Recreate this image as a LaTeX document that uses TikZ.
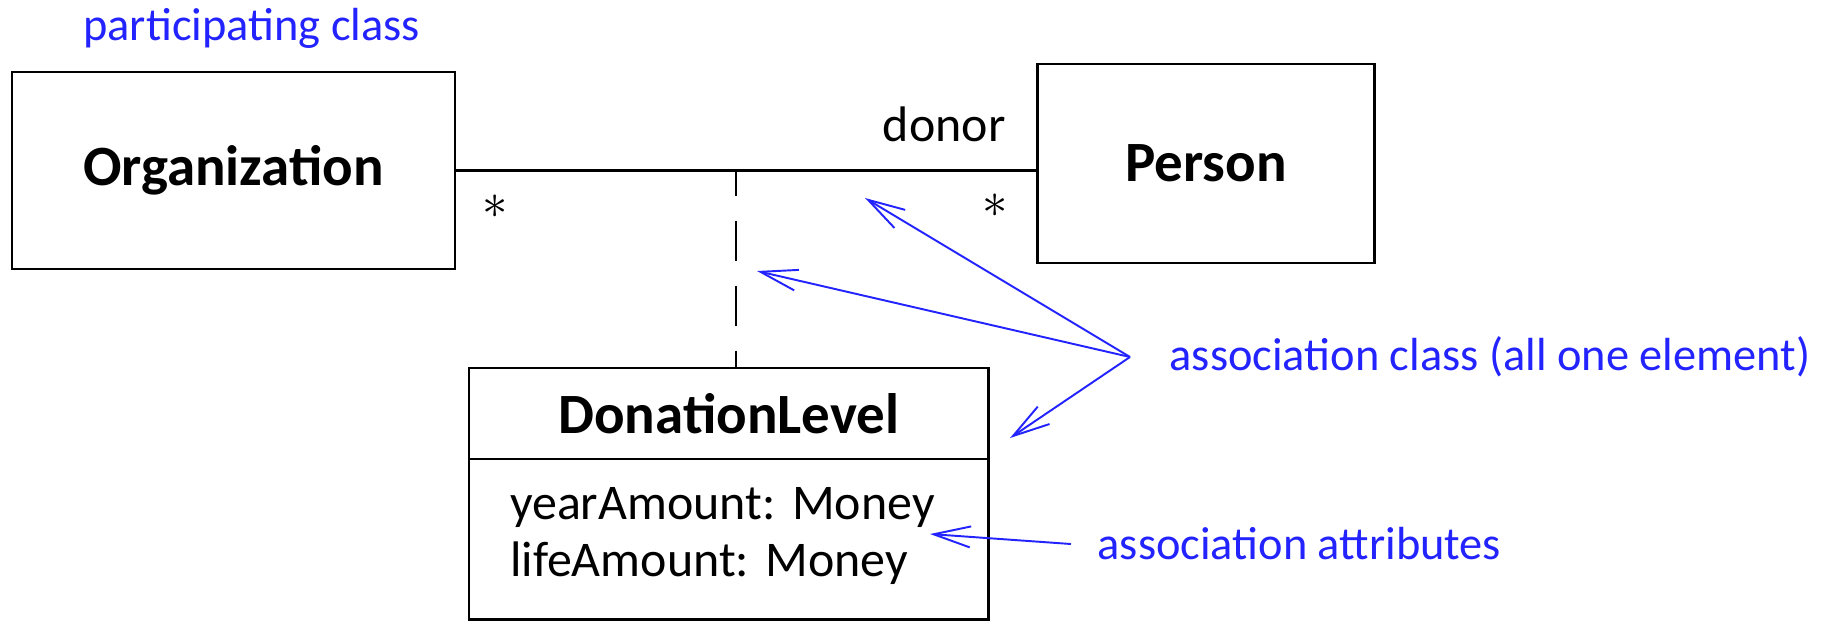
\documentclass[tikz,border=0pt]{standalone}
\usepackage{fontspec}
\setmainfont{Carlito}
\usepackage{tikz}
\usetikzlibrary{positioning, arrows.meta}
\definecolor{notecol}{RGB}{35,35,255}
\tikzset{C/.style={draw, line width=0.7pt, inner sep=0pt, font=\fontsize{16.2}{19}\selectfont\bfseries}}
\tikzset{T/.style={inner sep=0pt, font=\fontsize{14.2}{16.2}\selectfont}}
\tikzset{S/.style={inner sep=0pt, font=\fontsize{13.5}{15}\selectfont}}
\tikzset{N/.style={inner sep=0pt, text=notecol, font=\fontsize{13.2}{16}\selectfont}}
\tikzset{E/.style={draw, notecol, line width=0.55pt, -{Straight Barb[length=0.37cm, width=0.21cm]}}}

\begin{document}
\begin{tikzpicture}[x=0.01cm, y=-0.01cm, on grid]
        \useasboundingbox (0,0) rectangle (1831,620);
        %% Classes
        \node[C, minimum width=4.43cm, minimum height=1.97cm] (org) at (233.5,170.5) {Organization};
        \node[C, minimum width=3.37cm, minimum height=1.99cm, above right=0.07cm and 9.72cm of org] (person) {Person};
        \node[C, minimum width=5.19cm, minimum height=0.91cm, below right=2.43cm and 4.95cm of org] (level) {DonationLevel};
        \node[C, font=\fontsize{14.2}{16.2}\selectfont, minimum width=5.19cm, minimum height=1.6cm, text width=4.37cm, text depth=0.72cm, align=left, below=1.255cm of level] (levelattr) {yearAmount:\ Money\\lifeAmount:\ Money};
        %% Association
        \draw[line width=0.7pt] (org.east) -- (org.east -| person.west);
        \coordinate (mid) at (736,170.5);
        \draw[line width=0.7pt, dash pattern=on 0.4cm off 0.25cm, dash phase=0.15cm] (mid) -- (mid |- level.north);
        \node[T, above left=0.205cm and 0.3cm of person.west] (donor) {donor};
        \node[S, below right=0.235cm and 0.25cm of org.east] (star1) {$\ast$};
        \node[S, below left=0.295cm and 0.28cm of person.west] (star2) {$\ast$};
        %% Notes
        \node[N, above right=0.22cm and 0.72cm of org.north west] (partnote) {participating class};
        \node[N, anchor=west] (classnote) at (1169,357) {association class (all one element)};
        \node[N, anchor=west] (attrnote) at (1097,544) {association attributes};
        \coordinate[left=0.39cm of classnote.west] (fan);
        \coordinate (tipline) at (865,198);
        \coordinate (tipdash) at (757,271);
        \coordinate (tiplevel) at (1010,438);
        \coordinate (tipattr) at (930,534);
        %% Note arrows
        \draw[E] (fan) -- (tipline);
        \draw[E] (fan) -- (tipdash);
        \draw[E] (fan) -- (tiplevel);
        \draw[E] ([xshift=-0.26cm]attrnote.west) -- (tipattr);
\end{tikzpicture}
\end{document}
